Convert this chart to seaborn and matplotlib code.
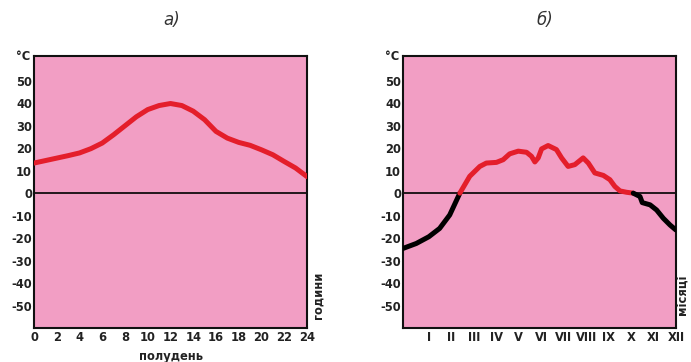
import numpy as np
import pandas as pd
import seaborn as sns
import matplotlib.pyplot as plt

# a) daily temperature course (hours -> °C)
hours = [0, 1, 2, 3, 4, 5, 6, 7, 8, 9, 10, 11, 12, 13, 14, 15, 16, 17, 18, 19, 20, 21, 22, 23, 24]
day_temp = [13.4, 14.5, 15.6, 16.7, 17.9, 19.8, 22.3, 26.0, 30.0, 34.0, 37.2, 39.0, 39.9,
            39.0, 36.5, 32.7, 27.5, 24.5, 22.6, 21.3, 19.3, 17.1, 14.1, 11.2, 7.4]

# b) yearly temperature course (month position -> °C), split by colour
winter_start_pos = [-0.15, 0.44, 1.0, 1.48, 1.93, 2.38]
winter_start_temp = [-24.6, -22.4, -19.4, -15.7, -9.7, 0.0]
summer_pos = [2.38, 2.82, 3.27, 3.56, 4.01, 4.31, 4.6, 4.98, 5.35, 5.57, 5.72, 5.87, 6.02,
              6.31, 6.68, 6.91, 7.2, 7.5, 7.87, 8.1, 8.39, 8.77, 9.06, 9.28, 9.51, 9.8, 10.1]
summer_temp = [0.0, 7.5, 11.9, 13.4, 13.7, 14.9, 17.5, 18.7, 18.2, 16.4, 13.9, 15.7, 19.7,
               21.2, 19.4, 15.7, 11.9, 12.7, 15.7, 13.4, 9.0, 7.9, 6.0, 3.0, 1.0, 0.4, 0.0]
winter_end_pos = [10.1, 10.4, 10.5, 10.85, 11.14, 11.44, 11.74, 12.0]
winter_end_temp = [0.0, -1.5, -4.2, -5.2, -7.5, -11.2, -14.2, -16.4]

hour_ticks = list(range(0, 25, 2))
month_labels = ['I', 'II', 'III', 'IV', 'V', 'VI', 'VII', 'VIII', 'IX', 'X', 'XI', 'XII']
temp_ticks = [-50, -40, -30, -20, -10, 0, 10, 20, 30, 40, 50]

PINK = '#F29EC4'
RED = '#E41E2B'
INK = '#222222'

sns.set_style('white')
plt.rcParams['font.family'] = ['DejaVu Sans']

fig = plt.figure(figsize=(6.91, 3.62), dpi=100)
ax1 = fig.add_axes([0.0492, 0.094, 0.395, 0.751])
ax2 = fig.add_axes([0.5832, 0.094, 0.395, 0.751])


def style_axes(ax):
    ax.set_facecolor(PINK)
    ax.set_ylim(-60, 61)
    ax.set_yticks(temp_ticks)
    ax.set_yticklabels([str(t) for t in temp_ticks])
    ax.axhline(0, color='black', linewidth=1.2, zorder=1)
    for sp in ax.spines.values():
        sp.set_visible(True)
        sp.set_color('#111111')
        sp.set_linewidth(1.5)
    ax.tick_params(axis='both', direction='in', length=6.5, width=1.5, color='#111111',
                   labelsize=8.3, pad=2.5)
    ax.tick_params(axis='y', pad=1.5)
    for lab in ax.get_xticklabels() + ax.get_yticklabels():
        lab.set_fontweight('bold')
        lab.set_color(INK)
    ax.text(-0.012, 1.0, '°C', transform=ax.transAxes, ha='right', va='center',
            fontsize=8.3, fontweight='bold', color=INK)
    ax.set_xlabel('')
    ax.set_ylabel('')


# panel a
df_day = pd.DataFrame({'hour': hours, 'temp': day_temp})
sns.lineplot(data=df_day, x='hour', y='temp', ax=ax1, color=RED, linewidth=3.6,
             solid_capstyle='round', solid_joinstyle='round', zorder=3)
ax1.set_xlim(0, 24)
ax1.set_xticks(hour_ticks)
ax1.set_xticklabels([str(h) for h in hour_ticks])
style_axes(ax1)

# panel b
segments = [(winter_start_pos, winter_start_temp, 'black'),
            (summer_pos, summer_temp, RED),
            (winter_end_pos, winter_end_temp, 'black')]
for pos, temp, col in segments:
    seg = pd.DataFrame({'month': pos, 'temp': temp})
    sns.lineplot(data=seg, x='month', y='temp', ax=ax2, color=col, linewidth=3.6,
                 solid_capstyle='round', solid_joinstyle='round', zorder=3)
ax2.set_xlim(-0.15, 12.0)
ax2.set_xticks(range(1, 13))
ax2.set_xticklabels(month_labels)
style_axes(ax2)

# titles and side labels
fig.text(0.249, 0.945, 'а)', ha='center', va='center', fontsize=12, style='italic',
         color='#333333')
fig.text(0.789, 0.945, 'б)', ha='center', va='center', fontsize=12, style='italic',
         color='#333333')
fig.text(0.247, 0.015, 'полудень', ha='center', va='center', fontsize=8.3,
         fontweight='bold', color=INK)
fig.text(0.461, 0.185, 'години', ha='center', va='center', rotation=90, fontsize=8.3,
         fontweight='bold', color=INK)
fig.text(0.989, 0.185, 'місяці', ha='center', va='center', rotation=90, fontsize=8.3,
         fontweight='bold', color=INK)

fig.savefig('out.png', dpi=100, facecolor='white')
